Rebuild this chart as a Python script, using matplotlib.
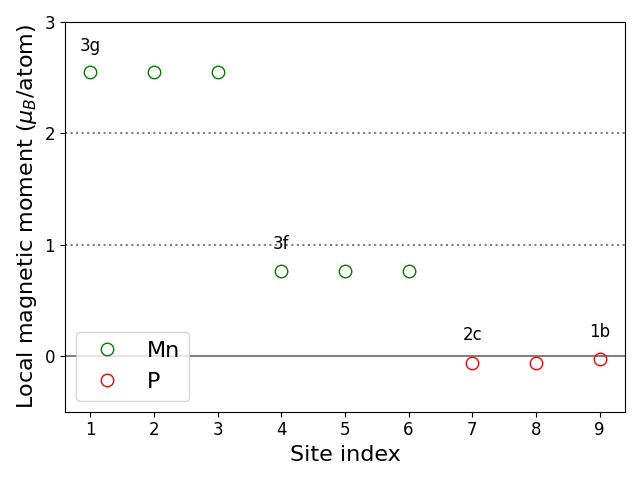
import matplotlib
matplotlib.use("Agg")
import matplotlib.pyplot as plt

mn_sites = [1, 2, 3, 4, 5, 6]
mn_moments = [2.55, 2.55, 2.55, 0.76, 0.76, 0.76]
p_sites = [7, 8, 9]
p_moments = [-0.06, -0.06, -0.03]

wyckoff_labels = ["3g", "3f", "2c", "1b"]
label_x = [1, 4, 7, 9]
label_y = [2.78, 1.01, 0.19, 0.22]

fig, ax = plt.subplots(figsize=(6.4, 4.8), dpi=100)

ax.axhline(0, color="gray", lw=1.5)
ax.axhline(1, color="gray", ls=":", lw=1.5)
ax.axhline(2, color="gray", ls=":", lw=1.5)

ax.plot(mn_sites, mn_moments, "o", ms=9, mfc="none", mec="green", ls="none", label="Mn")
ax.plot(p_sites, p_moments, "o", ms=9, mfc="none", mec="red", ls="none", label="P")

for lab, x, y in zip(wyckoff_labels, label_x, label_y):
    ax.text(x, y, lab, ha="center", va="center", fontsize=12)

ax.set_ylim(-0.5, 3)
ax.set_yticks([0, 1, 2, 3])
ax.set_xticks(range(1, 10))
ax.tick_params(labelsize=12)
ax.set_xlabel("Site index", fontsize=16)
ax.set_ylabel(r"Local magnetic moment ($\mu_B$/atom)", fontsize=16)
ax.legend(loc="lower left", fontsize=16)

plt.tight_layout()
plt.savefig("out.png")
plt.close()
